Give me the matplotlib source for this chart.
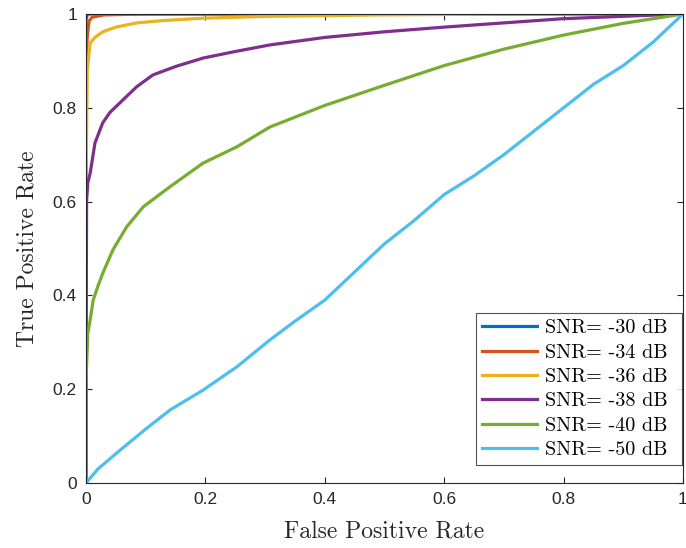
import matplotlib
matplotlib.use("Agg")
import matplotlib.pyplot as plt

labels = ["SNR= -30 dB", "SNR= -34 dB", "SNR= -36 dB", "SNR= -38 dB", "SNR= -40 dB", "SNR= -50 dB"]
colors = ["#0072BD", "#D95319", "#EDB120", "#7E2F8E", "#77AC30", "#4DBEEE"]

fpr_30 = [0.0, 0.0, 0.003, 0.01, 1.0]
tpr_30 = [0.0, 0.99, 1.0, 1.0, 1.0]

fpr_34 = [0.0, 0.0, 0.002, 0.005, 0.01, 0.03, 0.1, 1.0]
tpr_34 = [0.0, 0.88, 0.95, 0.985, 0.993, 0.998, 1.0, 1.0]

fpr_36 = [0.0, 0.0, 0.002, 0.007, 0.015, 0.028, 0.05, 0.085, 0.13, 0.196, 0.308, 0.5, 0.7, 1.0]
tpr_36 = [0.0, 0.63, 0.88, 0.938, 0.95, 0.962, 0.972, 0.981, 0.986, 0.991, 0.995, 0.998, 1.0, 1.0]

fpr_38 = [0.0, 0.0, 0.001, 0.003, 0.007, 0.015, 0.028, 0.04, 0.062, 0.085, 0.112, 0.15, 0.196, 0.25, 0.308,
          0.4, 0.5, 0.6, 0.7, 0.8, 0.9, 1.0]
tpr_38 = [0.0, 0.27, 0.603, 0.64, 0.661, 0.725, 0.768, 0.79, 0.817, 0.845, 0.87, 0.888, 0.906, 0.92, 0.934,
          0.95, 0.962, 0.972, 0.981, 0.99, 0.995, 1.0]

fpr_40 = [0.0, 0.0, 0.003, 0.006, 0.012, 0.02, 0.028, 0.045, 0.068, 0.096, 0.141, 0.196, 0.253, 0.308,
          0.4, 0.5, 0.6, 0.7, 0.8, 0.9, 1.0]
tpr_40 = [0.0, 0.22, 0.32, 0.34, 0.39, 0.42, 0.447, 0.497, 0.546, 0.589, 0.632, 0.682, 0.717, 0.759,
          0.805, 0.848, 0.89, 0.925, 0.955, 0.98, 1.0]

fpr_50 = [0.0, 0.02, 0.057, 0.1, 0.141, 0.196, 0.253, 0.308, 0.35, 0.4, 0.45, 0.5, 0.55, 0.6,
          0.65, 0.7, 0.75, 0.8, 0.85, 0.9, 0.95, 1.0]
tpr_50 = [0.0, 0.03, 0.07, 0.115, 0.156, 0.198, 0.248, 0.305, 0.345, 0.39, 0.45, 0.51, 0.56, 0.615,
          0.655, 0.7, 0.75, 0.8, 0.85, 0.89, 0.94, 1.0]

curves = [(fpr_30, tpr_30), (fpr_34, tpr_34), (fpr_36, tpr_36),
          (fpr_38, tpr_38), (fpr_40, tpr_40), (fpr_50, tpr_50)]

xticks = [0, 0.2, 0.4, 0.6, 0.8, 1]
yticks = [0, 0.2, 0.4, 0.6, 0.8, 1]
xtick_labels = ["0", "0.2", "0.4", "0.6", "0.8", "1"]
ytick_labels = ["0", "0.2", "0.4", "0.6", "0.8", "1"]

serif = ["cmr10", "DejaVu Serif"]
plt.rcParams["axes.unicode_minus"] = False

fig = plt.figure(figsize=(6.86, 5.48), dpi=100)
ax = fig.add_axes([0.1254, 0.1186, 0.8702, 0.8559])

for (x, y), c, lab in zip(curves, colors, labels):
    ax.plot(x, y, color=c, lw=2.3, label=lab, solid_joinstyle="round")

ax.set_xlim(0, 1)
ax.set_ylim(0, 1)
ax.set_xticks(xticks)
ax.set_xticklabels(xtick_labels)
ax.set_yticks(yticks)
ax.set_yticklabels(ytick_labels)
ax.tick_params(direction="in", top=True, right=True, length=4.5, width=0.8,
               labelsize=12.5, colors="#262626", pad=6.5)
for lbl in ax.get_xticklabels() + ax.get_yticklabels():
    lbl.set_family(["Liberation Sans", "DejaVu Sans"])
for s in ax.spines.values():
    s.set_color("#262626")
    s.set_linewidth(0.8)

ax.set_xlabel("False Positive Rate", family=serif, fontsize=17, color="#262626", labelpad=9.5)
ax.set_ylabel("True Positive Rate", family=serif, fontsize=17, color="#262626", labelpad=10)

leg = ax.legend(loc="lower left", bbox_to_anchor=(0.653, 0.038, 0.345, 0.324), mode="expand",
                prop={"family": serif, "size": 14.5}, frameon=True,
                fancybox=False, edgecolor="#262626", handlelength=2.75, handletextpad=0.4,
                borderpad=0.3, labelspacing=0.31, borderaxespad=0.0)
leg.get_frame().set_linewidth(0.8)

fig.savefig("out.png", dpi=100)
